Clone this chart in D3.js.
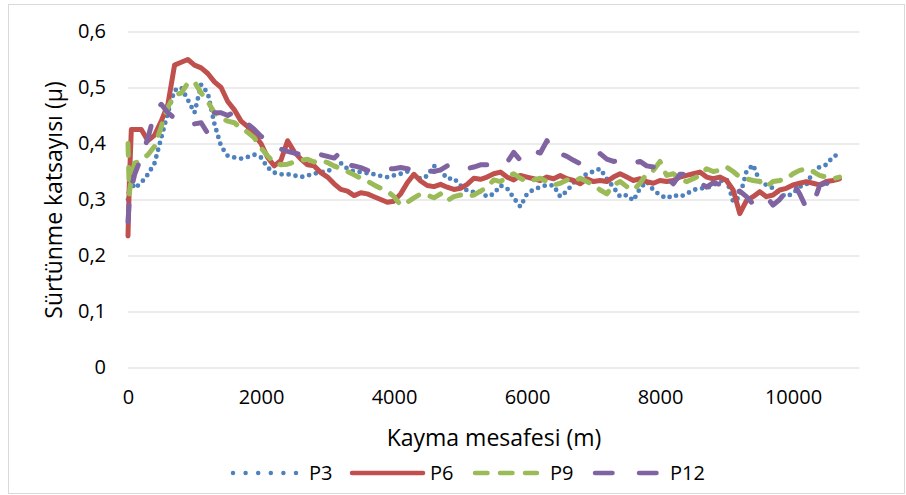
<!DOCTYPE html>
<html>
<head>
<meta charset="utf-8">
<script src="https://cdn.jsdelivr.net/npm/d3@7"></script>
<style>
  body { margin: 0; background: #fff; }
  svg text { font-family: "Open Sans", sans-serif; fill: #000; }
</style>
</head>
<body>
<div id="chart"></div>
<script>
// sliding distance (m), shared by all four series
var distances = [0, 20, 50,
  100, 200, 300, 400, 500, 600, 700, 800, 900, 1000,
  1100, 1200, 1300, 1400, 1500, 1600, 1700, 1800, 1900, 2000,
  2100, 2200, 2300, 2400, 2500, 2600, 2700, 2800, 2900, 3000,
  3100, 3200, 3300, 3400, 3500, 3600, 3700, 3800, 3900, 4000,
  4100, 4200, 4300, 4400, 4500, 4600, 4700, 4800, 4900, 5000,
  5100, 5200, 5300, 5400, 5500, 5600, 5700, 5800, 5900, 6000,
  6100, 6200, 6300, 6400, 6500, 6600, 6700, 6800, 6900, 7000,
  7100, 7200, 7300, 7400, 7500, 7600, 7700, 7800, 7900, 8000,
  8100, 8200, 8300, 8400, 8500, 8600, 8700, 8800, 8900, 9000,
  9100, 9200, 9300, 9400, 9500, 9600, 9700, 9800, 9900, 10000,
  10100, 10200, 10300, 10400, 10500, 10600, 10700];

var p3 = [0.30, 0.32, 0.33,
  0.32, 0.33, 0.345, 0.365, 0.41, 0.455, 0.495, 0.50, 0.478, 0.455,
  0.505, 0.49, 0.435, 0.395, 0.378, 0.375, 0.373, 0.376, 0.38, 0.375,
  0.357, 0.348, 0.345, 0.345, 0.343, 0.34, 0.343, 0.346, 0.349, 0.35,
  0.358, 0.365, 0.355, 0.35, 0.349, 0.347, 0.345, 0.342, 0.34, 0.343,
  0.346, 0.35, 0.343, 0.337, 0.342, 0.36, 0.352, 0.337, 0.338, 0.325,
  0.316, 0.313, 0.314, 0.305, 0.31, 0.325, 0.32, 0.303, 0.287, 0.31,
  0.318, 0.322, 0.326, 0.325, 0.305, 0.315, 0.33, 0.337, 0.346, 0.35,
  0.355, 0.337, 0.322, 0.305, 0.308, 0.298, 0.32, 0.332, 0.317, 0.308,
  0.302, 0.308, 0.305, 0.31, 0.317, 0.32, 0.32, 0.326, 0.332, 0.337,
  0.296, 0.305, 0.35, 0.362, 0.332, 0.326, 0.32, 0.311, 0.305, 0.311,
  0.323, 0.326, 0.349, 0.358, 0.362, 0.376, 0.382];

var p6 = [0.235, 0.33, 0.425,
  0.425, 0.425, 0.405, 0.415, 0.44, 0.47, 0.54, 0.545, 0.55, 0.54,
  0.535, 0.525, 0.51, 0.50, 0.475, 0.46, 0.44, 0.43, 0.415, 0.40,
  0.375, 0.36, 0.37, 0.405, 0.385, 0.372, 0.362, 0.36, 0.348, 0.34,
  0.328, 0.318, 0.315, 0.307, 0.312, 0.31, 0.305, 0.30, 0.295, 0.297,
  0.31, 0.33, 0.345, 0.333, 0.325, 0.323, 0.327, 0.322, 0.318, 0.32,
  0.327, 0.338, 0.336, 0.34, 0.346, 0.349, 0.34, 0.335, 0.343, 0.34,
  0.337, 0.334, 0.34, 0.337, 0.343, 0.337, 0.334, 0.328, 0.337, 0.332,
  0.334, 0.332, 0.34, 0.346, 0.34, 0.334, 0.337, 0.332, 0.329, 0.334,
  0.332, 0.334, 0.34, 0.343, 0.346, 0.349, 0.34, 0.337, 0.34, 0.334,
  0.317, 0.275, 0.298, 0.305, 0.314, 0.305, 0.308, 0.317, 0.32, 0.326,
  0.329, 0.332, 0.329, 0.326, 0.332, 0.334, 0.337];

var p9 = [0.40, 0.31, 0.34,
  0.365, 0.37, 0.38, 0.395, 0.43, 0.465, 0.487, 0.49, 0.508, 0.51,
  0.49, 0.475, 0.455, 0.445, 0.44, 0.437, 0.427, 0.42, 0.41, 0.392,
  0.378, 0.365, 0.362, 0.363, 0.367, 0.37, 0.372, 0.367, 0.37, 0.366,
  0.36, 0.355, 0.35, 0.344, 0.338, 0.333, 0.326, 0.32, 0.315, 0.305,
  0.29, 0.295, 0.303, 0.31, 0.308, 0.303, 0.31, 0.298, 0.305, 0.308,
  0.305, 0.308, 0.315, 0.322, 0.335, 0.332, 0.34, 0.346, 0.338, 0.332,
  0.335, 0.338, 0.332, 0.326, 0.329, 0.335, 0.332, 0.338, 0.332, 0.326,
  0.317, 0.31, 0.326, 0.332, 0.323, 0.317, 0.329, 0.346, 0.352, 0.368,
  0.343, 0.346, 0.337, 0.332, 0.337, 0.343, 0.355, 0.35, 0.352, 0.358,
  0.35, 0.34, 0.337, 0.334, 0.332, 0.323, 0.332, 0.334, 0.337, 0.346,
  0.352, 0.355, 0.35, 0.343, 0.34, 0.337, 0.34];

var p12 = [0.26, 0.30, 0.32,
  0.345, 0.375, 0.41, 0.455, 0.47, 0.455, 0.445, 0.442, 0.44, 0.435,
  0.437, 0.418, 0.455, 0.455, 0.45, 0.456, 0.445, 0.435, 0.425, 0.413,
  0.405, 0.40, 0.39, 0.386, 0.383, 0.38, 0.377, 0.376, 0.38, 0.377,
  0.374, 0.385, 0.362, 0.36, 0.357, 0.352, 0.35, 0.353, 0.355, 0.355,
  0.357, 0.355, 0.352, 0.355, 0.352, 0.35, 0.353, 0.36, 0.363, 0.358,
  0.355, 0.358, 0.362, 0.362, 0.366, 0.368, 0.366, 0.384, 0.37, 0.383,
  0.387, 0.383, 0.405, 0.382, 0.382, 0.377, 0.37, 0.364, 0.37, 0.375,
  0.382, 0.372, 0.368, 0.37, 0.37, 0.365, 0.368, 0.36, 0.358, 0.352,
  0.34, 0.328, 0.345, 0.345, 0.338, 0.33, 0.322, 0.33, 0.327, 0.318,
  0.31, 0.315, 0.305, 0.292, 0.30, 0.305, 0.29, 0.30, 0.315, 0.33,
  0.31, 0.285, 0.29, 0.325, 0.33, 0.32, 0.335];

var seriesNames = ["P3", "P6", "P9", "P12"];
var xTicks = [0, 2000, 4000, 6000, 8000, 10000];
var yTicks = [0, 0.1, 0.2, 0.3, 0.4, 0.5, 0.6];
var yTickLabels = ["0", "0,1", "0,2", "0,3", "0,4", "0,5", "0,6"];

var W = 906, H = 495;
var plotL = 128, plotR = 859.5, plotT = 31.5, plotB = 367.5;

// line looks per series (Office 2007 palette)
var styles = [
  { color: "#4F81BD", dash: "0,7", legendDash: "0,12.6" },
  { color: "#C0504D", dash: null, legendDash: null },
  { color: "#9BBB59", dash: "12,12", legendDash: "12.5,12.5" },
  { color: "#8064A2", dash: "17,24", legendDash: "17.5,26.5" }
];

var svg = d3.select('#chart')
  .append('svg')
  .attr('width', W)
  .attr('height', H);

// chart frame
svg.append('rect')
  .attr('x', 8.5).attr('y', 4.5)
  .attr('width', 896).attr('height', 489)
  .attr('fill', 'none')
  .attr('stroke', '#D9D9D9')
  .attr('stroke-width', 1);

var x = d3.scaleLinear().domain([0, 11000]).range([plotL, plotR]);
var y = d3.scaleLinear().domain([0, 0.6]).range([plotB, plotT]);

// horizontal gridlines
svg.append('g')
  .attr('transform', 'translate(' + plotL + ',0)')
  .call(d3.axisRight(y).tickValues(yTicks).tickSize(plotR - plotL).tickFormat(''))
  .call(function (g) {
    g.select('.domain').remove();
    g.selectAll('line').attr('stroke', '#D9D9D9').attr('stroke-width', 1.2);
  });

// y tick labels
svg.append('g')
  .attr('transform', 'translate(' + plotL + ',0)')
  .call(d3.axisLeft(y).tickValues(yTicks).tickSize(0).tickPadding(22)
    .tickFormat(function (d, i) { return yTickLabels[i]; }))
  .call(function (g) {
    g.select('.domain').remove();
    g.selectAll('text').attr('font-size', 20).attr('fill', '#000')
      .attr('font-family', '"Open Sans", sans-serif');
  });

// x tick labels
svg.append('g')
  .attr('transform', 'translate(0,' + plotB + ')')
  .call(d3.axisBottom(x).tickValues(xTicks).tickSize(0).tickPadding(22)
    .tickFormat(function (d) { return String(d); }))
  .call(function (g) {
    g.select('.domain').remove();
    g.selectAll('text').attr('font-size', 20).attr('fill', '#000')
      .attr('font-family', '"Open Sans", sans-serif');
  });

// axis titles
svg.append('text')
  .attr('x', 494).attr('y', 446)
  .attr('text-anchor', 'middle')
  .attr('font-size', 23)
  .text('Kayma mesafesi (m)');

svg.append('text')
  .attr('transform', 'translate(62,200) rotate(-90)')
  .attr('text-anchor', 'middle')
  .attr('font-size', 23)
  .text('Sürtünme katsayısı (μ)');

// the four series
var allSeries = [p3, p6, p9, p12];
var line = d3.line()
  .x(function (d) { return x(d[0]); })
  .y(function (d) { return y(d[1]); });

allSeries.forEach(function (vals, i) {
  var pts = distances.map(function (d, j) { return [d, vals[j]]; });
  svg.append('path')
    .datum(pts)
    .attr('d', line)
    .attr('fill', 'none')
    .attr('stroke', styles[i].color)
    .attr('stroke-width', i === 0 ? 4.8 : 5)
    .attr('stroke-linecap', 'round')
    .attr('stroke-linejoin', 'round')
    .attr('stroke-dasharray', styles[i].dash);
});

// legend
var legendY = 473;
var legendItems = [
  { x1: 233, x2: 297, tx: 309 },
  { x1: 352, x2: 423, tx: 430 },
  { x1: 475, x2: 537, tx: 550 },
  { x1: 595, x2: 657, tx: 670 }
];
legendItems.forEach(function (it, i) {
  svg.append('line')
    .attr('x1', it.x1).attr('x2', it.x2)
    .attr('y1', legendY).attr('y2', legendY)
    .attr('stroke', styles[i].color)
    .attr('stroke-width', 4.5)
    .attr('stroke-linecap', 'round')
    .attr('stroke-dasharray', styles[i].legendDash);
  svg.append('text')
    .attr('x', it.tx).attr('y', legendY + 7)
    .attr('font-size', 20)
    .text(seriesNames[i]);
});
</script>
</body>
</html>
